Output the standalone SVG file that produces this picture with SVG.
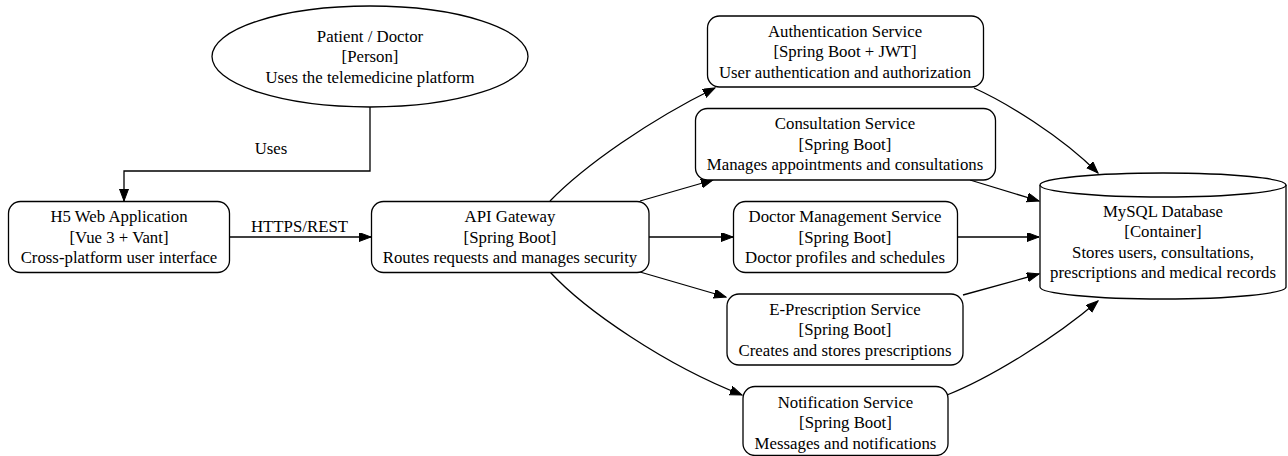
<svg xmlns="http://www.w3.org/2000/svg" width="1288" height="456" viewBox="0 0 1288 456">
<defs>
<marker id="arr" markerWidth="13" markerHeight="10" refX="12" refY="4.5" orient="auto" markerUnits="userSpaceOnUse">
<path d="M0,0 L12,4.5 L0,9 z" fill="#000" stroke="#000" stroke-width="1"/>
</marker>
<style>
text{font-family:"Liberation Serif","Times New Roman",serif;font-size:16.8px;fill:#000;text-anchor:middle}
.n{fill:#fff;stroke:#000;stroke-width:1.3}
.e{fill:none;stroke:#000;stroke-width:1.3;marker-end:url(#arr)}
</style>
</defs>
<rect width="1288" height="456" fill="#fff"/>
<g id="connectors">
<path class="e" d="M370,107 V171 H124 V201"/>
<path class="e" d="M229,237 H371"/>
<path class="e" d="M550,201 C585,165 650,120 715,88"/>
<path class="e" d="M640,201 L713,180"/>
<path class="e" d="M649,237 H733"/>
<path class="e" d="M640,272 L726,297"/>
<path class="e" d="M550,272 C585,310 665,365 742,395"/>
<path class="e" d="M974,88 C1005,102 1060,135 1098,173"/>
<path class="e" d="M970,180 L1039,201"/>
<path class="e" d="M957,237 H1039"/>
<path class="e" d="M963,295 L1039,274"/>
<path class="e" d="M947,395 C990,378 1055,338 1098,301"/>
<text x="271" y="153.5">Uses</text>
<text x="299.5" y="232">HTTPS/REST</text>
</g>
<g id="patient">
<ellipse class="n" cx="370" cy="56.5" rx="158" ry="50.5"/>
<text x="370" y="41.5">Patient / Doctor</text>
<text x="370" y="62">[Person]</text>
<text x="370" y="82.5">Uses the telemedicine platform</text>
</g>
<g id="h5app">
<rect class="n" x="8.5" y="201.5" width="221" height="71" rx="12"/>
<text x="119" y="222">H5 Web Application</text>
<text x="119" y="242.5">[Vue 3 + Vant]</text>
<text x="119" y="263">Cross-platform user interface</text>
</g>
<g id="gateway">
<rect class="n" x="371.5" y="201.5" width="277.5" height="71" rx="12"/>
<text x="510" y="222">API Gateway</text>
<text x="510" y="242.5">[Spring Boot]</text>
<text x="510" y="263">Routes requests and manages security</text>
</g>
<g id="auth">
<rect class="n" x="707.5" y="16" width="276" height="71" rx="12"/>
<text x="845" y="36.5">Authentication Service</text>
<text x="845" y="57">[Spring Boot + JWT]</text>
<text x="845" y="77.5">User authentication and authorization</text>
</g>
<g id="consultation">
<rect class="n" x="695.5" y="108.5" width="300" height="71.5" rx="12"/>
<text x="845" y="129">Consultation Service</text>
<text x="845" y="149.5">[Spring Boot]</text>
<text x="845" y="170">Manages appointments and consultations</text>
</g>
<g id="doctor">
<rect class="n" x="733.5" y="201.5" width="224" height="71" rx="12"/>
<text x="845" y="222">Doctor Management Service</text>
<text x="845" y="242.5">[Spring Boot]</text>
<text x="845" y="263">Doctor profiles and schedules</text>
</g>
<g id="prescription">
<rect class="n" x="727" y="294" width="236" height="71" rx="12"/>
<text x="845" y="314.5">E-Prescription Service</text>
<text x="845" y="335">[Spring Boot]</text>
<text x="845" y="355.5">Creates and stores prescriptions</text>
</g>
<g id="notification">
<rect class="n" x="743" y="386.5" width="205" height="69" rx="12"/>
<text x="845.5" y="407.5">Notification Service</text>
<text x="845.5" y="428">[Spring Boot]</text>
<text x="845.5" y="448.5">Messages and notifications</text>
</g>
<g id="mysql">
<path class="n" d="M1040,185 V287 A123,12 0 0,0 1286,287 V185"/>
<ellipse class="n" cx="1163" cy="185" rx="123" ry="12"/>
<text x="1163" y="216.5">MySQL Database</text>
<text x="1163" y="237">[Container]</text>
<text x="1163" y="257.5">Stores users, consultations,</text>
<text x="1163" y="278">prescriptions and medical records</text>
</g>
</svg>
